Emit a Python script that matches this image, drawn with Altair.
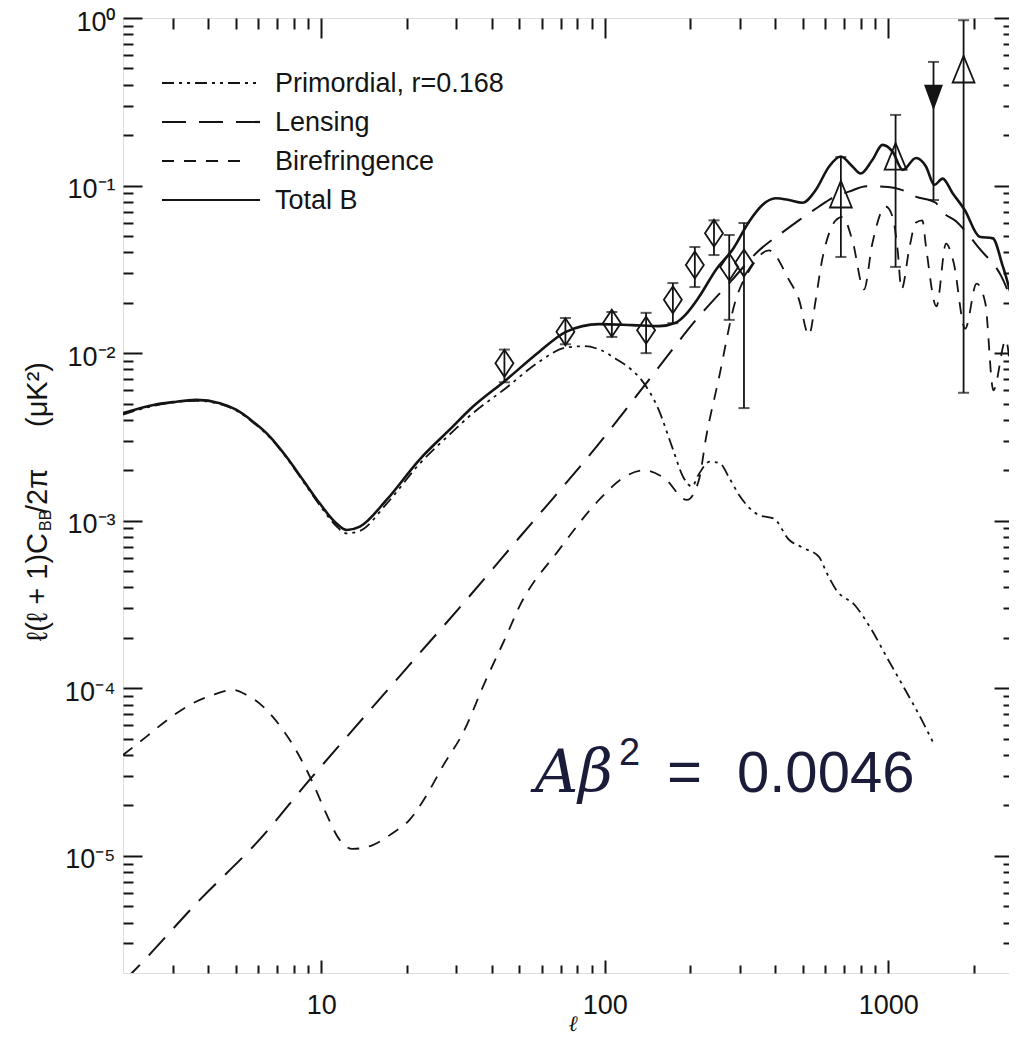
import altair as alt
import pandas as pd

# ---------------- data ----------------
total_l = [2, 2.56, 3.0, 3.63, 4.39, 5.03, 5.75, 6.59, 7.54, 8.63, 9.88, 11.3, 12.3, 13.7, 17.0,
           22.2, 29.1, 33.3, 44.9, 58.8, 73, 95.5, 125, 155, 178, 193, 215, 248, 282, 323, 360,
           401, 447, 498, 555, 619, 680, 748, 800, 879, 955, 1037, 1125, 1254, 1359, 1455, 1556,
           1688, 1862, 2100, 2340, 2540, 2830, 3000]
total_c = [4.38e-3, 4.91e-3, 5.1e-3, 5.26e-3, 5.02e-3, 4.58e-3, 3.90e-3, 3.18e-3, 2.41e-3, 1.75e-3,
           1.27e-3, 9.66e-4, 8.81e-4, 9.22e-4, 1.33e-3, 2.31e-3, 3.64e-3, 4.58e-3, 6.92e-3, 1.02e-2,
           1.34e-2, 1.49e-2, 1.47e-2, 1.45e-2, 1.52e-2, 1.7e-2, 2.16e-2, 3.18e-2, 4.13e-2, 6.09e-2,
           7.66e-2, 8.4e-2, 8.2e-2, 7.9e-2, 9.4e-2, 0.130, 0.149, 0.130, 0.118, 0.142, 0.175, 0.159,
           0.124, 0.146, 0.130, 0.101, 0.110, 9.0e-2, 7.15e-2, 4.95e-2, 4.84e-2, 3.28e-2, 1.81e-2, 1.5e-2]

prim_l = [2, 2.56, 3.63, 4.39, 5.03, 5.75, 6.59, 7.54, 8.63, 9.88, 11.3, 12.3, 13.7, 17.0, 22.2,
          29.1, 33.3, 44.9, 58.8, 73, 85, 96, 110, 125, 135, 155, 173, 190, 203, 215, 235, 255,
          275, 300, 350, 395, 447, 500, 569, 610, 653, 767, 873, 1000, 1148, 1312, 1445]
prim_c = [4.3e-3, 4.84e-3, 5.2e-3, 4.97e-3, 4.53e-3, 3.86e-3, 3.14e-3, 2.38e-3, 1.72e-3, 1.24e-3,
          9.3e-4, 8.4e-4, 8.7e-4, 1.26e-3, 2.18e-3, 3.4e-3, 4.2e-3, 6.2e-3, 8.9e-3, 1.08e-2,
          1.1e-2, 1.05e-2, 9.2e-3, 7.9e-3, 6.9e-3, 4.6e-3, 2.75e-3, 1.8e-3, 1.6e-3, 1.9e-3,
          2.25e-3, 2.2e-3, 1.8e-3, 1.4e-3, 1.08e-3, 1.03e-3, 7.7e-4, 6.9e-4, 6.1e-4, 4.8e-4,
          3.9e-4, 3.1e-4, 2.24e-4, 1.48e-4, 9.8e-5, 6.5e-5, 4.7e-5]

lens_l = [2, 2.15, 3.73, 6.06, 9.1, 13, 20.1, 32.5, 50, 93.3, 150, 210, 280, 350, 420, 484, 567,
          632, 727, 840, 1000, 1122, 1250, 1470, 1550, 1740, 1880, 2100, 2500, 2830, 3000]
lens_c = [1.77e-6, 2.0e-6, 5.46e-6, 1.25e-5, 2.84e-5, 5.7e-5, 1.33e-4, 3.37e-4, 7.94e-4, 2.75e-3,
          7.65e-3, 1.58e-2, 2.71e-2, 4.1e-2, 5.2e-2, 6.2e-2, 7.45e-2, 8.4e-2, 9.2e-2, 9.9e-2,
          9.8e-2, 9.4e-2, 8.6e-2, 7.9e-2, 7.0e-2, 6.1e-2, 5.3e-2, 4.2e-2, 2.9e-2, 1.75e-2, 1.35e-2]

bire_l = [2, 2.42, 2.92, 3.44, 4.16, 4.89, 5.45, 6.24, 7.33, 8.39, 9.35, 10.4, 11.6, 12.9, 15.2,
          17.9, 20.5, 23.4, 26.8, 31.6, 38.1, 44.9, 50, 69, 95.5, 116, 138, 162, 195, 215, 228,
          252, 290, 323, 380, 447, 484, 525, 555, 582, 619, 653, 690, 748, 822, 879, 980, 1037,
          1080, 1114, 1190, 1250, 1320, 1360, 1480, 1600, 1700, 1870, 2050, 2200, 2350, 2600,
          2800, 3000]
bire_c = [4.0e-5, 5.15e-5, 6.63e-5, 7.96e-5, 9.13e-5, 9.78e-5, 9.13e-5, 7.78e-5, 5.65e-5, 3.92e-5,
          2.72e-5, 1.80e-5, 1.25e-5, 1.10e-5, 1.16e-5, 1.37e-5, 1.64e-5, 2.26e-5, 3.41e-5, 5.4e-5,
          1.12e-4, 2.04e-4, 3.07e-4, 6.7e-4, 1.33e-3, 1.8e-3, 2.0e-3, 1.8e-3, 1.33e-3, 1.75e-3,
          3.16e-3, 6.9e-3, 2.08e-2, 3.1e-2, 4.1e-2, 2.73e-2, 2.1e-2, 1.28e-2, 2.07e-2, 3.45e-2,
          5.2e-2, 6.2e-2, 6.5e-2, 4.7e-2, 2.4e-2, 4.5e-2, 7.5e-2, 6.5e-2, 4.1e-2, 2.4e-2, 4.3e-2,
          6.0e-2, 6.2e-2, 4.3e-2, 1.9e-2, 4.5e-2, 3.5e-2, 1.4e-2, 2.6e-2, 2.0e-2, 6.0e-3, 1.2e-2,
          4.0e-3, 2.2e-3]

diam_l = [44.3, 72.7, 106, 140, 174, 208, 243, 275, 310]
diam_c = [8.7e-3, 1.34e-2, 1.51e-2, 1.37e-2, 2.08e-2, 3.36e-2, 5.2e-2, 3.27e-2, 3.45e-2]
diam_lo = [6.7e-3, 1.13e-2, 1.25e-2, 1.0e-2, 1.51e-2, 2.48e-2, 3.85e-2, 1.58e-2, 4.7e-3]
diam_hi = [1.05e-2, 1.62e-2, 1.76e-2, 1.74e-2, 2.62e-2, 4.3e-2, 6.2e-2, 5.07e-2, 5.98e-2]

tri_l = [681, 1062, 1845]
tri_c = [8.8e-2, 0.148, 0.49]
tri_lo = [3.75e-2, 3.27e-2, 5.8e-3]
tri_hi = [0.148, 0.264, 0.97]

dtri_l = [1445]
dtri_c = [0.338]
dtri_lo = [8.2e-2]
dtri_hi = [0.547]

legend_labels = ["Primordial, r=0.168", "Lensing", "Birefringence", "Total B"]

x_major = [10, 100, 1000]
x_minor = [3, 4, 5, 6, 7, 8, 9, 20, 30, 40, 50, 60, 70, 80, 90,
           200, 300, 400, 500, 600, 700, 800, 900, 2000]
y_major = [1e-5, 1e-4, 1e-3, 1e-2, 1e-1, 1]
y_minor = [3e-6, 4e-6, 5e-6, 6e-6, 7e-6, 8e-6, 9e-6,
           2e-5, 3e-5, 4e-5, 5e-5, 6e-5, 7e-5, 8e-5, 9e-5,
           2e-4, 3e-4, 4e-4, 5e-4, 6e-4, 7e-4, 8e-4, 9e-4,
           2e-3, 3e-3, 4e-3, 5e-3, 6e-3, 7e-3, 8e-3, 9e-3,
           2e-2, 3e-2, 4e-2, 5e-2, 6e-2, 7e-2, 8e-2, 9e-2,
           0.2, 0.3, 0.4, 0.5, 0.6, 0.7, 0.8, 0.9]
y_tick_text = ["10⁻⁶", "10⁻⁵", "10⁻⁴", "10⁻³", "10⁻²", "10⁻¹", "10⁰"]

# ---------------- styling ----------------
W, H = 886, 955
INK = "#141414"
FONT = "Liberation Sans Narrow, Liberation Sans, Arial, sans-serif"
xs = alt.Scale(type="log", domain=[2, 2668], nice=False)
ys = alt.Scale(type="log", domain=[2e-6, 1], nice=False)

y_label_expr = "[" + ",".join("'%s'" % t for t in y_tick_text) + "][round(log(datum.value)/LN10)+6]"


def ax(orient, values, size, labels=False, **kw):
    return alt.Axis(orient=orient, values=values, tickSize=size, offset=-size, domain=False,
                    grid=False, labels=labels, ticks=True, tickColor=INK, tickWidth=2,
                    title=None, **kw)


ax_bottom_major = ax("bottom", x_major, 13, labels=True, format="d", labelFont=FONT,
                     labelFontSize=27, labelColor=INK, labelPadding=19)
ax_bottom_minor = ax("bottom", x_minor, 8)
ax_top_major = ax("top", x_major, 20)
ax_top_minor = ax("top", x_minor, 11)
ax_left_major = ax("left", y_major, 19, labels=True, labelExpr=y_label_expr, labelFont=FONT,
                   labelFontSize=27, labelColor=INK, labelPadding=8, labelOffset=4)
ax_left_minor = ax("left", y_minor, 10)
ax_right_major = ax("right", y_major, 15)
ax_right_minor = ax("right", y_minor, 6)


def df(l, c):
    return pd.DataFrame({"l": l, "c": c})


def line(l, c, width, dash, xa, ya):
    kw = dict(clip=True, strokeWidth=width, color=INK, interpolate="monotone")
    if dash:
        kw["strokeDash"] = dash
    return alt.Chart(df(l, c)).mark_line(**kw).encode(
        x=alt.X("l:Q", scale=xs, axis=xa), y=alt.Y("c:Q", scale=ys, axis=ya))


DASH = {"prim": [12, 5, 3, 5, 3, 5], "lens": [24, 13], "bire": [12, 10], "total": None}

l_total = line(total_l, total_c, 2.6, DASH["total"], ax_bottom_major, ax_left_major)
l_lens = line(lens_l, lens_c, 2.0, DASH["lens"], ax_bottom_minor, ax_left_minor)
l_prim = line(prim_l, prim_c, 1.8, DASH["prim"], ax_top_major, ax_right_major)
l_bire = line(bire_l, bire_c, 1.8, DASH["bire"], ax_top_minor, ax_right_minor)

err = pd.DataFrame({"l": diam_l + tri_l + dtri_l, "lo": diam_lo + tri_lo + dtri_lo,
                    "hi": diam_hi + tri_hi + dtri_hi})
bars = alt.Chart(err).mark_rule(color=INK, strokeWidth=1.8).encode(
    x=alt.X("l:Q", scale=xs, axis=None), y=alt.Y("lo:Q", scale=ys, axis=None), y2="hi:Q")
cap_lo = alt.Chart(err).mark_tick(color=INK, orient="horizontal", size=11, thickness=2).encode(
    x=alt.X("l:Q", scale=xs, axis=None), y=alt.Y("lo:Q", scale=ys, axis=None))
cap_hi = alt.Chart(err).mark_tick(color=INK, orient="horizontal", size=11, thickness=2).encode(
    x=alt.X("l:Q", scale=xs, axis=None), y=alt.Y("hi:Q", scale=ys, axis=None))

DIAMOND = "M0,-1L0.667,0L0,1L-0.667,0Z"
TRI_UP = "M0,-1L0.78,0.9L-0.78,0.9Z"
TRI_DN = "M0,1L0.7,-0.9L-0.7,-0.9Z"


def pts(l, c, shape, size, filled):
    return alt.Chart(df(l, c)).mark_point(shape=shape, size=size, filled=filled, color=INK,
                                          strokeWidth=1.8, opacity=1).encode(
        x=alt.X("l:Q", scale=xs, axis=None), y=alt.Y("c:Q", scale=ys, axis=None))


p_diam = pts(diam_l, diam_c, DIAMOND, 729, False)
p_tri = pts(tri_l, tri_c, TRI_UP, 784, False)
p_dtri = pts(dtri_l, dtri_c, TRI_DN, 729, True)

# ---------------- legend (drawn inside the plot) ----------------
leg_layers = []
leg_dash = [DASH["prim"], DASH["lens"], DASH["bire"], DASH["total"]]
leg_len = [96, 98, 86, 98]
for i, lab in enumerate(legend_labels):
    yy = 65 + 39 * i
    kw = dict(color=INK, strokeWidth=2.2)
    if leg_dash[i]:
        kw["strokeDash"] = leg_dash[i]
    one = pd.DataFrame({"t": [lab]})
    leg_layers.append(alt.Chart(one).mark_rule(**kw).encode(
        x=alt.value(39), x2=alt.value(39 + leg_len[i]), y=alt.value(yy)))
    leg_layers.append(alt.Chart(one).mark_text(font=FONT, fontSize=27, color=INK, align="left",
                                               baseline="middle").encode(
        x=alt.value(152), y=alt.value(yy + 1), text="t:N"))


# ---------------- texts ----------------
def txt(s, x, y, **kw):
    return alt.Chart(pd.DataFrame({"t": [s]})).mark_text(**kw).encode(
        x=alt.value(x), y=alt.value(y), text="t:N")


ann = [
    txt("Aβ", 412, 774, font="DejaVu Serif", fontStyle="italic", fontSize=60, color="#1b1b3a",
        align="left", baseline="alphabetic"),
    txt("2", 496, 747, font="Liberation Sans", fontSize=38, color="#1b1b3a", align="left",
        baseline="alphabetic"),
    txt("=", 544, 774, font="Liberation Sans", fontSize=60, color="#1b1b3a", align="left",
        baseline="alphabetic"),
    txt("0.0046", 614, 774, font="Liberation Sans", fontSize=58, color="#1b1b3a", align="left",
        baseline="alphabetic"),
]

ytitle = [
    txt("ℓ(ℓ + 1)C", -85, 515, font=FONT, fontSize=29, color=INK, angle=270, align="right",
        baseline="middle"),
    txt("BB", -77, 513, font=FONT, fontSize=16, color=INK, angle=270, align="left",
        baseline="middle"),
    txt("/2π", -85, 495, font=FONT, fontSize=29, color=INK, angle=270, align="left",
        baseline="middle"),
    txt("(μK²)", -85, 409, font=FONT, fontSize=29, color=INK, angle=270, align="left",
        baseline="middle"),
]
xtitle = [txt("ℓ", 450, 1006, font="DejaVu Serif", fontStyle="italic", fontSize=22, color=INK,
              align="center", baseline="middle")]

chart = alt.layer(
    l_lens, l_bire, l_prim, l_total, bars, cap_lo, cap_hi, p_diam, p_tri, p_dtri,
    *leg_layers, *ann, *ytitle, *xtitle
).resolve_axis(x="independent", y="independent").properties(
    width=W, height=H,
    autosize=alt.AutoSizeParams(type="none"),
    padding={"left": 115, "top": 10, "right": 0, "bottom": 63},
).configure_view(stroke=INK, strokeWidth=2.2).configure(background="white")

chart.save("out.html", embed_options={"renderer": "svg", "actions": False})
